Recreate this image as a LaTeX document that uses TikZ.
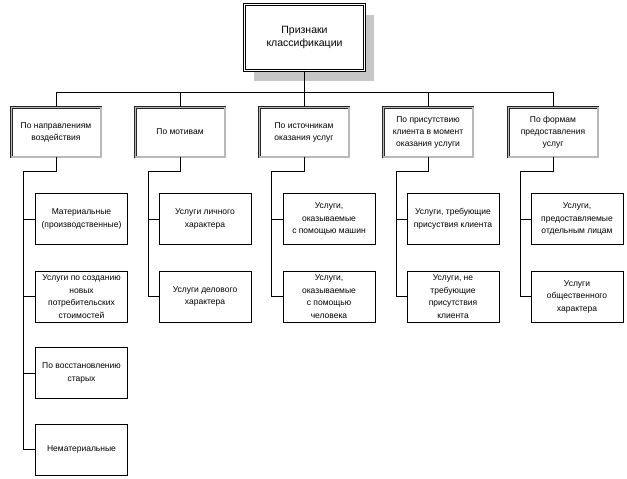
\documentclass[tikz,border=0pt]{standalone}
\usepackage{fontspec}
\setmainfont{Liberation Sans}
\usetikzlibrary{positioning,calc,shadows}

\begin{document}
\begin{tikzpicture}[x=1pt, y=-1pt,
  head/.style={draw, double, double distance=1.4pt, line width=0.6pt,
               fill=white, minimum width=120pt, minimum height=66pt,
               align=center, font=\fontsize{10.5}{13.5}\selectfont,
               drop shadow={shadow xshift=9pt, shadow yshift=-10pt,
                            fill=gray!45, opacity=1}},
  group/.style={draw=black!85, double=gray!55, double distance=1.5pt,
                line width=0.5pt, minimum width=89.5pt, minimum height=49.5pt,
                align=center, font=\fontsize{8.5}{12}\selectfont},
  item/.style={draw, line width=0.6pt, minimum width=92.4pt,
               minimum height=51.4pt, align=center,
               font=\fontsize{8.5}{12.5}\selectfont},
  link/.style={line width=0.6pt}
]
\useasboundingbox (0,0) rectangle (627,479);
\node[head] (sign) at (304.5,37.5) {Признаки\\классификации};
% first level
\node[group] (dir)  at (56,132)  {По направлениям\\воздействия};
\node[group] (mot)  at (180,132) {По мотивам};
\node[group] (src)  at (304,132) {По источникам\\оказания услуг};
\node[group] (pres) at (428,132) {По присутствию\\клиента в момент\\оказания услуги};
\node[group] (form) at (553,132) {По формам\\предоставления\\услуг};
% second level
\node[item] (dir1) at (81.5,219)   {Материальные\\(производственные)};
\node[item] (dir2) at (81.5,296.5) {Услуги по созданию\\новых\\потребительских\\стоимостей};
\node[item] (dir3) at (81.5,373)   {По восстановлению\\старых};
\node[item] (dir4) at (81.5,449.5) {Нематериальные};
\node[item] (mot1) at (205,219)    {Услуги личного\\характера};
\node[item] (mot2) at (205,296.5)  {Услуги делового\\характера};
\node[item] (src1) at (329,219)    {Услуги,\\оказываемые\\с помощью машин};
\node[item] (src2) at (329,296.5)  {Услуги,\\оказываемые\\с помощью\\человека};
\node[item] (pres1) at (453,219)   {Услуги, требующие\\присуствия клиента};
\node[item] (pres2) at (453,296.5) {Услуги, не\\требующие\\присутствия\\клиента};
\node[item] (form1) at (577,219)   {Услуги,\\предоставляемые\\отдельным лицам};
\node[item] (form2) at (577,296.5) {Услуги\\общественного\\характера};
% bus to the first level
\foreach \g in {dir,mot,src,pres,form}
  \draw[link] (sign.south) -- ++(0,21) -| (\g.north);
% trunks
\coordinate (tdir)  at (23,171);
\coordinate (tmot)  at (148,171);
\coordinate (tsrc)  at (271,171);
\coordinate (tpres) at (396,171);
\coordinate (tform) at (520,171);
\draw[link] (dir.south) |- (tdir) |- (dir4.west);
\draw[link] (tdir) |- (dir1.west);
\draw[link] (tdir) |- (dir2.west);
\draw[link] (tdir) |- (dir3.west);
\foreach \g in {mot,src,pres,form} {
  \draw[link] (\g.south) |- (t\g) |- (\g2.west);
  \draw[link] (t\g) |- (\g1.west);
}
\end{tikzpicture}
\end{document}
